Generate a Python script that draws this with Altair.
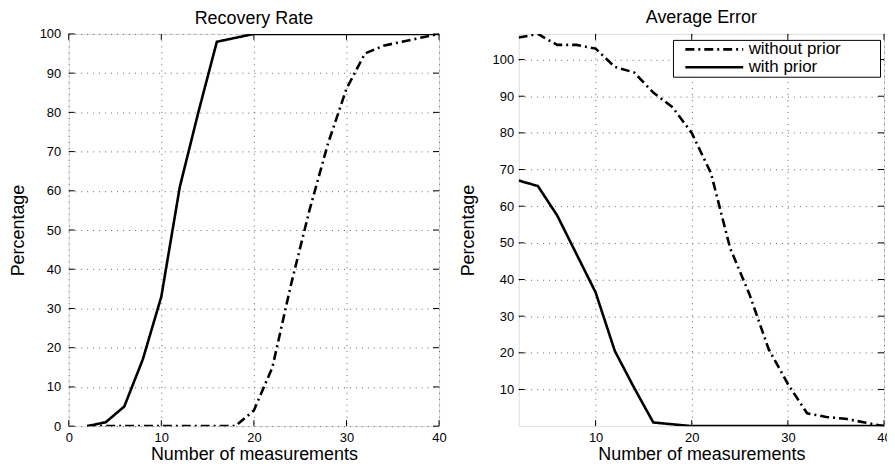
import altair as alt
import pandas as pd

# ---- data ----
measurements = [2, 4, 6, 8, 10, 12, 14, 16, 18, 20, 22, 24, 26, 28, 30, 32, 34, 36, 38, 40]
recovery_with_prior = [0, 1, 5, 17, 33, 61, 80, 98, 99, 100, 100, 100, 100, 100, 100, 100, 100, 100, 100, 100]
recovery_without_prior = [0, 0, 0, 0, 0, 0, 0, 0, 0, 4, 15, 36, 55, 72, 86, 95, 97, 98, 99, 100]
error_with_prior = [67, 65.5, 57.5, 47, 36.5, 20.5, 10.5, 1, 0.5, 0, 0, 0, 0, 0, 0, 0, 0, 0, 0, 0]
error_without_prior = [106, 107, 104, 104, 103, 98, 96.5, 91, 87, 80, 69, 48.5, 36, 21, 11.5, 3.5, 2.5, 2, 1, 0]

series_names = ["without prior", "with prior"]
left_x_ticks = [0, 10, 20, 30, 40]
left_y_ticks = [0, 10, 20, 30, 40, 50, 60, 70, 80, 90, 100]
right_x_ticks = [10, 20, 30, 40]
right_y_ticks = [10, 20, 30, 40, 50, 60, 70, 80, 90, 100]


def long_frame(with_vals, without_vals):
    rows = []
    for n, v in zip(measurements, without_vals):
        rows.append({"n": n, "value": v, "series": series_names[0]})
    for n, v in zip(measurements, with_vals):
        rows.append({"n": n, "value": v, "series": series_names[1]})
    return pd.DataFrame(rows)


rec_df = long_frame(recovery_with_prior, recovery_without_prior)
err_df = long_frame(error_with_prior, error_without_prior)

FONT = "Liberation Sans"
H = 394
TICK = 6
dash_scale = alt.Scale(domain=series_names, range=[[9, 4, 2, 4], [1, 0]])


def axis(values, title, label_pad, title_pad):
    return alt.Axis(values=values, title=title, grid=True, gridDash=[1, 5],
                    gridColor="#666666", gridWidth=1, ticks=False, domain=False,
                    labelFontSize=13, labelFont=FONT, labelColor="black",
                    titleFontSize=18, titleFont=FONT, titleColor="black",
                    titleFontWeight="normal", labelPadding=label_pad,
                    titlePadding=title_pad, labelFlush=False, labelOverlap=False)


def panel(df, W, xdom, ydom, xt, yt, title, title_offset, ylab_pad, ytitle_pad, legend):
    xs = alt.Scale(domain=xdom, nice=False, zero=False)
    ys = alt.Scale(domain=ydom, nice=False, zero=False)
    xa = axis(xt, "Number of measurements", 5, 2)
    ya = axis(yt, "Percentage", ylab_pad, ytitle_pad)
    lines = alt.Chart(df).mark_line(color="black", strokeWidth=2.6, clip=True).encode(
        x=alt.X("n:Q", scale=xs, axis=xa),
        y=alt.Y("value:Q", scale=ys, axis=ya),
        strokeDash=alt.StrokeDash("series:N", scale=dash_scale, legend=legend),
        detail="series:N",
    )
    xt_df = pd.DataFrame({"n": xt})
    yt_df = pd.DataFrame({"value": yt})
    tick_x = alt.X("n:Q", scale=xs, axis=xa)
    tick_y = alt.Y("value:Q", scale=ys, axis=ya)
    tb = alt.Chart(xt_df).mark_rule(color="black", strokeWidth=1).encode(
        x=tick_x, y=alt.value(H), y2=alt.value(H - TICK))
    tt = alt.Chart(xt_df).mark_rule(color="black", strokeWidth=1).encode(
        x=tick_x, y=alt.value(0), y2=alt.value(TICK))
    tl = alt.Chart(yt_df).mark_rule(color="black", strokeWidth=1).encode(
        y=tick_y, x=alt.value(0), x2=alt.value(TICK))
    tr = alt.Chart(yt_df).mark_rule(color="black", strokeWidth=1).encode(
        y=tick_y, x=alt.value(W - TICK), x2=alt.value(W))
    return alt.layer(tb, tt, tl, tr, lines).properties(
        width=W, height=H,
        title=alt.TitleParams(title, fontSize=18, font=FONT, fontWeight="normal",
                              color="black", offset=title_offset, anchor="middle"),
    )


# symbol: a horizontal stroke; the trailing move-to only widens the legend box
legend = alt.Legend(
    title=None, orient="none", legendX=155, legendY=6,
    symbolType="M-5,0H5M27.5,0", symbolSize=135, symbolStrokeWidth=2.6,
    symbolStrokeColor="black", symbolOffset=32, labelOffset=26,
    labelFontSize=17, labelFont=FONT, labelColor="black", labelLimit=400,
    padding=1, rowPadding=0, strokeColor="black", fillColor="white",
)

left = panel(rec_df, 372, [0, 40], [0, 100], left_x_ticks, left_y_ticks,
             "Recovery Rate", 0, 8, 12, None)
right = panel(err_df, 367, [2, 40], [0, 107], right_x_ticks, right_y_ticks,
              "Average Error", 6, 5, 15, legend)

chart = alt.hconcat(left, right, spacing=11).resolve_scale(
    x="independent", y="independent", strokeDash="independent"
).properties(
    padding={"left": 0, "top": 0, "right": -5, "bottom": -3}
).configure_view(stroke="black", strokeWidth=1.2).configure(background="white")

chart.save("out.html", embed_options={"renderer": "svg", "actions": False})
